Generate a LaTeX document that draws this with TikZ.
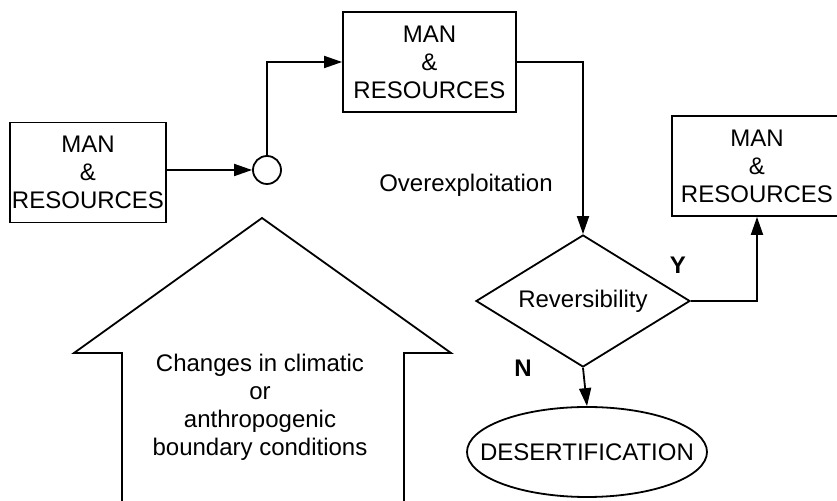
\documentclass[tikz,border=0pt]{standalone}
\usepackage{fontspec}
\setmainfont{Liberation Sans}
\usetikzlibrary{shapes.geometric,arrows.meta}

\begin{document}
\begin{tikzpicture}[x=0.5pt,y=-0.5pt,
    every node/.style={font=\fontsize{12}{14}\selectfont,align=center,inner sep=0pt},
    mrbox/.style={draw,rectangle,line width=0.9pt,minimum width=#1,minimum height=50pt},
    flow/.style={line width=0.9pt,-{Triangle[length=9pt,width=6pt]}},
    yn/.style={font=\fontsize{12}{14}\selectfont\bfseries}]
    \useasboundingbox (0,0) rectangle (837,501);
    \clip (0,0) rectangle (837,501); % the right box and the big arrow run off the page

    % man & resources, three times
    \node[mrbox=78pt]   (LeftBox)  at (88,172.5) {MAN\\\&\\RESOURCES};
    \node[mrbox=86.5pt] (TopBox)   at (429.5,62) {MAN\\\&\\RESOURCES};
    \node[mrbox=85pt]   (RightBox) at (757,166)  {MAN\\\&\\RESOURCES};

    \node[draw,circle,line width=0.9pt,minimum size=14pt] (Junction) at (267,170) {};
    % outlines drawn empty, so the text does not blow them up
    \node[draw,diamond,line width=0.9pt,minimum width=107pt,minimum height=66pt]
        (Reversible) at (583,301) {};
    \node at (Reversible) {Reversibility};
    \node[draw,ellipse,line width=0.9pt,minimum width=120pt,minimum height=45pt]
        (Desert) at (587,452) {};
    \node at (Desert) {DESERTIFICATION};

    \node (Overexp) at (466,185) {Overexploitation};
    \node[yn] (YesLabel) at (678,265) {Y};
    \node[yn] (NoLabel)  at (523,368) {N};

    % the big upward arrow of boundary conditions
    \draw[line width=0.9pt] (122,501) -- (122,353) -- (74,353) -- (262,218)
        -- (451,353) -- (404,353) -- (404,501);
    \node (Boundary) at (260,407)
        {Changes in climatic\\or\\anthropogenic\\boundary conditions};

    % connectors
    \draw[flow] (LeftBox.east |- Junction.west) -- (Junction.west);
    \draw[flow] (Junction.north) |- (TopBox.west);
    \draw[flow] (TopBox.east) -| (Reversible.north);
    \draw[flow] (Reversible.east) -| (RightBox.south);
    \draw[flow] (Reversible.south) -- (Desert.north);
\end{tikzpicture}
\end{document}
